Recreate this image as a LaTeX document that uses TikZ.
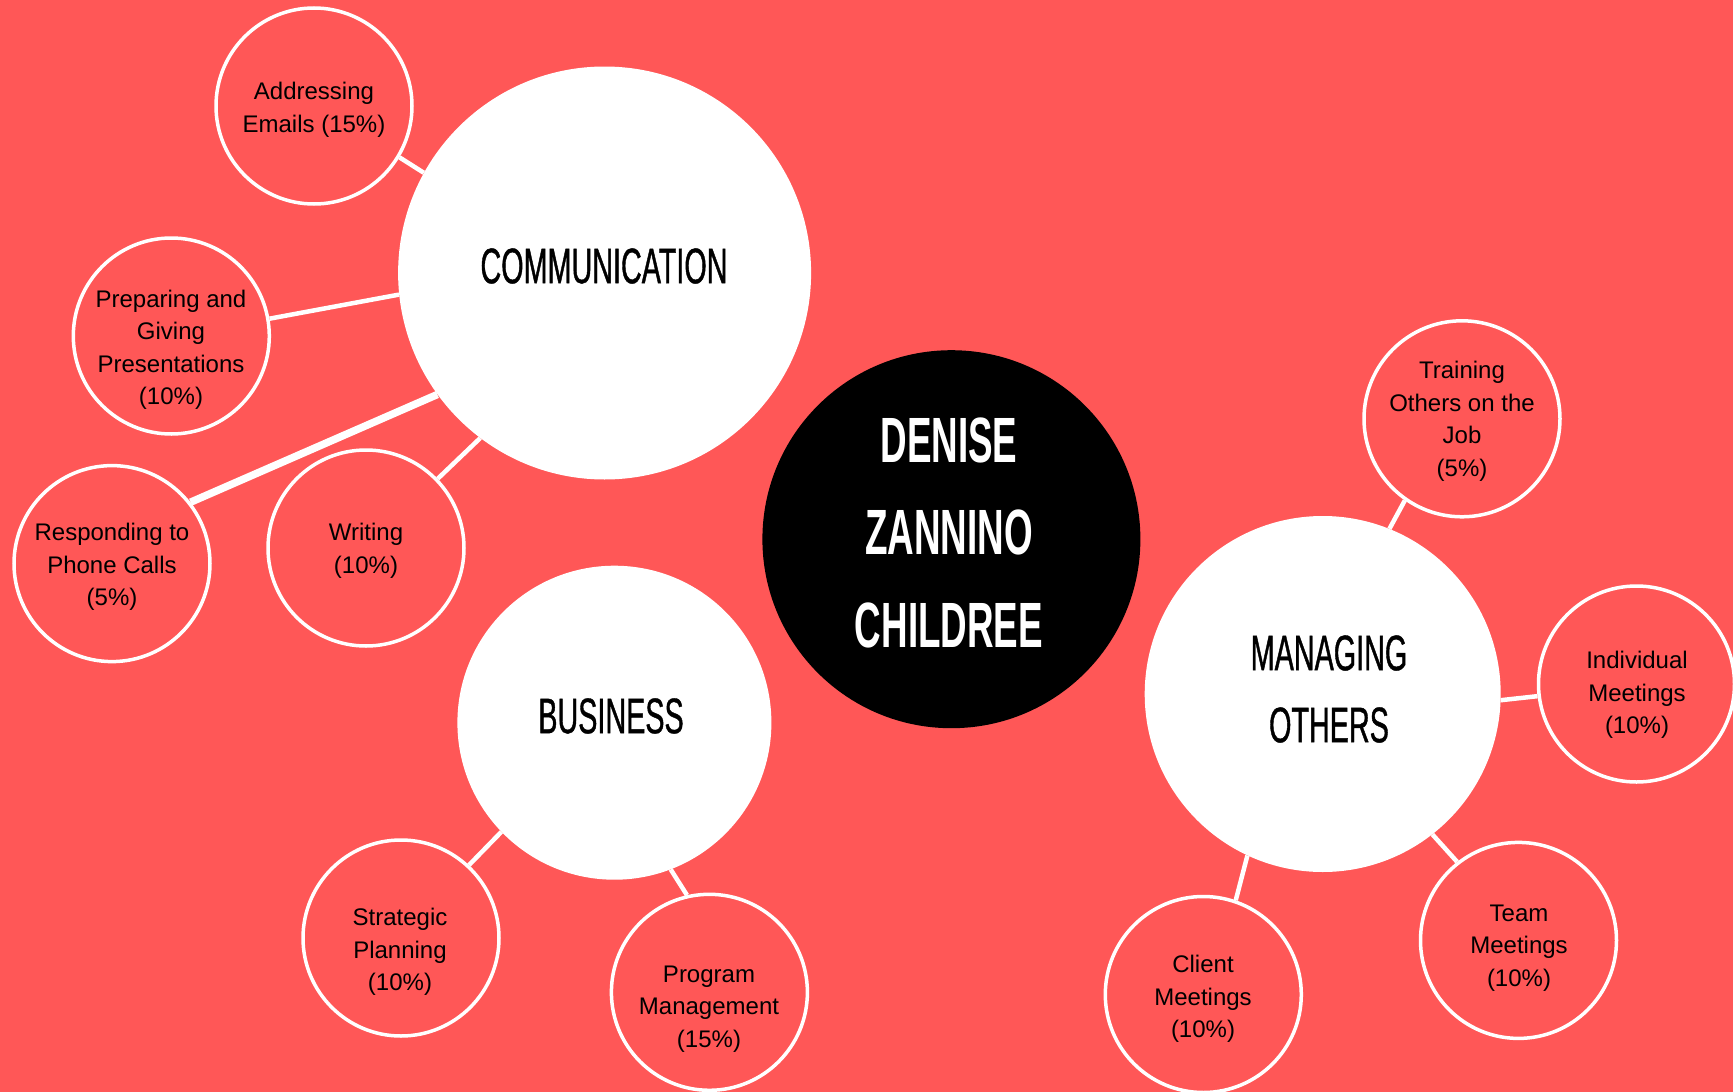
\documentclass[tikz,border=0pt]{standalone}
\usepackage{fontspec}
\setmainfont{Liberation Sans}
\newfontfamily\hdfont[FakeStretch=0.575,FakeBold=0.8]{Liberation Sans}
\newfontfamily\ctrfont[FakeStretch=0.575]{Liberation Sans Bold}
\definecolor{bg}{HTML}{FF5757}
\begin{document}
\begin{tikzpicture}[x=1pt,y=-1pt,
  big/.style={circle,fill=white,inner sep=0pt},
  small/.style={circle,draw=white,line width=3.5pt,minimum size=196pt,inner sep=0pt},
  lbl/.style={align=center,font=\fontsize{24}{32.5}\selectfont,text=black,inner sep=0pt},
  head/.style={align=center,font=\hdfont\fontsize{50}{72}\selectfont,text=black,inner sep=0pt},
  link/.style={draw=white,line width=4.5pt}]
\fill[bg] (0,0) rectangle (1733,1092);
\useasboundingbox (0,0) rectangle (1733,1092);
% main circles
\node[big,minimum size=413pt] (comm) at (604.6,273) {};
\node[big,fill=black,minimum size=378pt] (ctr) at (951.4,539.2) {};
\node[big,minimum size=314pt] (bus) at (614.4,722.7) {};
\node[big,minimum size=356pt] (mng) at (1322.7,694) {};
% small circles
\node[small] (addr) at (314,106) {};
\node[small] (prep) at (171.3,336) {};
\node[small] (resp) at (112,563.6) {};
\node[small] (writ) at (366,548) {};
\node[small] (strat) at (401,938) {};
\node[small] (prog) at (709.4,992.3) {};
\node[small] (train) at (1462,418.8) {};
\node[small] (indiv) at (1636.5,684) {};
\node[small] (team) at (1518.5,940.4) {};
\node[small] (client) at (1203.3,994.5) {};
% connectors
\draw[link] (addr.-31.5) -- (comm.151.3);
\draw[link] (prep.10.8) -- (comm.186.4);
\draw[link,line width=7.5pt] (resp.38.3) -- (comm.216.1);
\draw[link] (writ.44.5) -- (comm.233.7);
\draw[link] (strat.47.8) -- (bus.224.2);
\draw[link] (prog.103) -- (bus.-69.9);
\draw[link] (train.235.4) -- (mng.68.6);
\draw[link] (indiv.187.6) -- (mng.-2.9);
\draw[link] (team.128.6) -- (mng.-52.8);
\draw[link] (client.71.6) -- (mng.245.1);
% headings
\node[head] (hcomm) at (604,266) {COMMUNICATION};
\node[head] (hbus) at (611,716) {BUSINESS};
\node[head] (hmng) at (1329,689) {MANAGING\\OTHERS};
\node[head,text=white,font=\ctrfont\fontsize{64}{92.5}\selectfont] (hctr) at (949,532.5) {DENISE\\ZANNINO\\CHILDREE};
% labels
\node[lbl] (taddr) at (314,110) {Addressing\\Emails (15\%)};
\node[lbl] (tprep) at (171,350) {Preparing and\\Giving\\Presentations\\(10\%)};
\node[lbl] (tresp) at (112,567) {Responding to\\Phone Calls\\(5\%)};
\node[lbl] (twrit) at (366,551) {Writing\\(10\%)};
\node[lbl] (tstrat) at (400,952) {Strategic\\Planning\\(10\%)};
\node[lbl] (tprog) at (709,1009) {Program\\Management\\(15\%)};
\node[lbl] (ttrain) at (1462,421.5) {Training\\Others on the\\Job\\(5\%)};
\node[lbl] (tindiv) at (1637,695) {Individual\\Meetings\\(10\%)};
\node[lbl] (tteam) at (1519,948) {Team\\Meetings\\(10\%)};
\node[lbl] (tclient) at (1203,999) {Client\\Meetings\\(10\%)};
\end{tikzpicture}
\end{document}
